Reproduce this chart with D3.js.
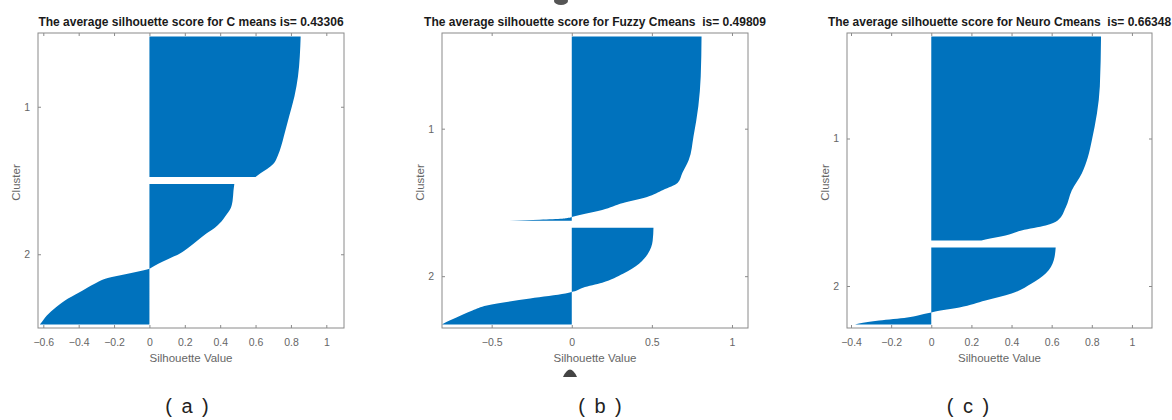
<!DOCTYPE html>
<html>
<head>
<meta charset="utf-8">
<script src="https://cdn.jsdelivr.net/npm/d3@7"></script>
<style>
body { margin:0; background:#fff; font-family: "Liberation Sans", Arial, sans-serif; }
svg { display:block; background:#fff; }
.ttl { font-weight:bold; font-size:12px; fill:#1a1a1a; white-space:pre; }
.tick text { font-size:10.5px; fill:#666; }
.lbl { font-size:11.5px; fill:#666; }
.cap { font-size:20px; fill:#222; letter-spacing:2px; white-space:pre; }
</style>
</head>
<body>
<div id="chart"></div>
<script>
// ---- data (silhouette values sorted per cluster, [rank in cluster, value]) ----

// (a) C means
var aTitle = "The average silhouette score for C means is= 0.43306"
var aXLim = [-0.63, 1.1]
var aXTicks = [-0.6, -0.4, -0.2, 0, 0.2, 0.4, 0.6, 0.8, 1]
var aSizes = [141, 141]
var aCluster1 = [[0,0.855],[20,0.85],[40,0.84],[60,0.82],[80,0.79],[100,0.76],[110,0.745],[120,0.725],[128,0.70],[133,0.665],[137,0.63],[141,0.60]]
var aCluster2 = [[0,0.48],[7,0.475],[17,0.47],[24,0.46],[32,0.43],[39,0.40],[44,0.37],[50,0.32],[57,0.27],[64,0.22],[70,0.17],[75,0.11],[80,0.05],[84,0.01],[85,0],[86,-0.02],[88,-0.07],[91,-0.15],[94,-0.23],[100,-0.31],[107,-0.38],[115,-0.46],[124,-0.53],[132,-0.58],[140,-0.615],[141,-0.62]]

// (b) Fuzzy Cmeans
var bTitle = "The average silhouette score for Fuzzy Cmeans  is= 0.49809"
var bXLim = [-0.81, 1.1]
var bXTicks = [-0.5, 0, 0.5, 1]
var bSizes = [185, 97]
var bCluster1 = [[0,0.81],[40,0.805],[70,0.79],[100,0.76],[124,0.73],[137,0.69],[147,0.66],[154,0.57],[161,0.47],[167,0.32],[174,0.19],[179,0.05],[181,0],[182,-0.02],[183,-0.06],[184,-0.2],[185,-0.39]]
var bCluster2 = [[0,0.51],[13,0.505],[26,0.475],[36,0.42],[46,0.32],[55,0.19],[60,0.07],[64,0.01],[66,-0.04],[71,-0.26],[78,-0.53],[83,-0.62],[90,-0.72],[96,-0.80],[97,-0.81]]

// (c) Neuro Cmeans
var cTitle = "The average silhouette score for Neuro Cmeans  is= 0.66348"
var cXLim = [-0.42, 1.1]
var cXTicks = [-0.4, -0.2, 0, 0.2, 0.4, 0.6, 0.8, 1]
var cSizes = [204, 77]
var cCluster1 = [[0,0.846],[50,0.84],[104,0.80],[121,0.78],[137,0.75],[154,0.70],[171,0.67],[184,0.63],[189,0.57],[194,0.45],[199,0.37],[203,0.27],[204,0.25]]
var cCluster2 = [[0,0.62],[13,0.61],[26,0.57],[36,0.50],[46,0.40],[53,0.27],[60,0.14],[64,0.02],[65,0],[66,-0.025],[70,-0.12],[73,-0.26],[76,-0.36],[77,-0.38]]

var captions = ["( a )", "( b )", "( c )"]

var W = 1172, H = 420
var top0 = 33, bot0 = 328
var gap = 7, pad = 3.5
var barColor = "#0072BD"

var svg = d3.select("#chart").append("svg").attr("width", W).attr("height", H)

drawPanel = function(box, title, xlim, xticks, sizes, c1, c2, fmt, capText, capX) {
  var n1 = sizes[0], n2 = sizes[1]
  var total = n1 + gap + n2
  var x = d3.scaleLinear().domain(xlim).range([box[0], box[1]])
  var y = d3.scaleLinear().domain([-pad, total + pad]).range([top0, bot0])

  var g = svg.append("g")

  // bars drawn as filled profile
  var area = off => d3.area()
    .curve(d3.curveMonotoneY)
    .y(d => y(off + d[0]))
    .x0(x(0))
    .x1(d => x(d[1]))
  g.append("path").datum(c1).attr("d", area(0)).attr("fill", barColor)
  g.append("path").datum(c2).attr("d", area(n1 + gap)).attr("fill", barColor)

  // axes box
  var xb = d3.axisBottom(x).tickValues(xticks).tickSize(-3).tickPadding(11).tickFormat(fmt)
  var xt = d3.axisTop(x).tickValues(xticks).tickSize(-3).tickFormat("")
  var yticks = [n1 / 2, n1 + gap + n2 / 2]
  var yl = d3.axisLeft(y).tickValues(yticks).tickSize(-3).tickPadding(8).tickFormat((d, i) => i + 1)
  var yr = d3.axisRight(y).tickValues(yticks).tickSize(-3).tickFormat("")

  g.append("g").attr("transform", "translate(0," + bot0 + ")").call(xb)
  g.append("g").attr("transform", "translate(0," + top0 + ")").call(xt)
  g.append("g").attr("transform", "translate(" + box[0] + ",0)").call(yl)
  g.append("g").attr("transform", "translate(" + box[1] + ",0)").call(yr)
  g.selectAll(".domain").attr("stroke", "#8a8a8a").attr("d", null)
  g.selectAll(".tick line").attr("stroke", "#8a8a8a")
  g.append("rect").attr("x", box[0]).attr("y", top0).attr("width", box[1] - box[0]).attr("height", bot0 - top0)
    .attr("fill", "none").attr("stroke", "#8a8a8a").attr("stroke-width", 1)
  g.selectAll(".tick text").attr("font-family", null).attr("font-size", null)

  var cx = (box[0] + box[1]) / 2
  g.append("text").attr("class", "ttl").attr("x", cx).attr("y", 26).attr("text-anchor", "middle").text(title)
  g.append("text").attr("class", "lbl").attr("x", cx).attr("y", 362).attr("text-anchor", "middle").text("Silhouette Value")
  g.append("text").attr("class", "lbl").attr("text-anchor", "middle")
    .attr("transform", "translate(" + (box[0] - 18) + "," + ((top0 + bot0) / 2 + 2) + ") rotate(-90)").text("Cluster")
  g.append("text").attr("class", "cap").attr("x", capX).attr("y", 413).attr("text-anchor", "middle").text(capText)
}

var f1 = d => d3.format("")(+d.toFixed(1))

drawPanel([38, 344], aTitle, aXLim, aXTicks, aSizes, aCluster1, aCluster2, f1, captions[0], 188)
drawPanel([442, 748], bTitle, bXLim, bXTicks, bSizes, bCluster1, bCluster2, f1, captions[1], 601)
drawPanel([847, 1152], cTitle, cXLim, cXTicks, cSizes, cCluster1, cCluster2, f1, captions[2], 969)

// scan artifacts on panel (b)
svg.append("ellipse").attr("cx", 561).attr("cy", 1).attr("rx", 7).attr("ry", 4).attr("fill", "#555")
svg.append("path").attr("d", "M563,377 Q570,362 577,377 Z").attr("fill", "#444")
</script>
</body>
</html>
